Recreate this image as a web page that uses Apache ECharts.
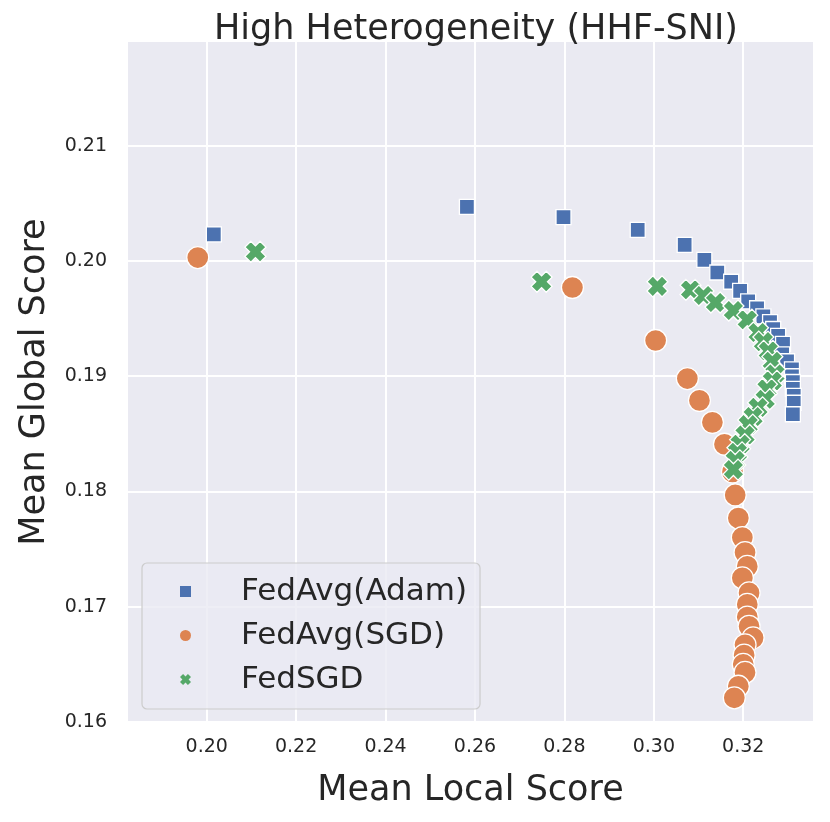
<!DOCTYPE html>
<html>
<head>
<meta charset="utf-8">
<title>High Heterogeneity (HHF-SNI)</title>
<script src="https://cdn.jsdelivr.net/npm/echarts@6/dist/echarts.min.js"></script>
<style>
html, body { margin: 0; padding: 0; background: #fff; }
#main { width: 830px; height: 822px; }
</style>
</head>
<body>
<div id="main"></div>
<script>
// values
var adamLocal = [0.2016, 0.2582, 0.2798, 0.2964, 0.3069, 0.3113, 0.3142, 0.3173, 0.3193, 0.3211,
    0.3231, 0.3245, 0.3260, 0.3267, 0.3278, 0.3289, 0.3287, 0.3298, 0.3309, 0.3309,
    0.3311, 0.3311, 0.3313, 0.3313, 0.3311];
var adamGlobal = [0.2023, 0.2047, 0.2038, 0.2027, 0.2014, 0.2001, 0.1990, 0.1982, 0.1974, 0.1965,
    0.1959, 0.1952, 0.1947, 0.1941, 0.1935, 0.1928, 0.1919, 0.1913, 0.1906, 0.1900,
    0.1895, 0.1889, 0.1883, 0.1877, 0.1867];

var sgdLocal = [0.1980, 0.2818, 0.3004, 0.3075, 0.3102, 0.3131, 0.3158, 0.3176, 0.3182, 0.3189,
    0.3198, 0.3204, 0.3209, 0.3198, 0.3213, 0.3209, 0.3209, 0.3213, 0.3222, 0.3204,
    0.3202, 0.3200, 0.3204, 0.3189, 0.3180];
var sgdGlobal = [0.2003, 0.1977, 0.1931, 0.1898, 0.1879, 0.1860, 0.1841, 0.1817, 0.1797, 0.1777,
    0.1760, 0.1747, 0.1735, 0.1725, 0.1712, 0.1702, 0.1691, 0.1683, 0.1673, 0.1667,
    0.1658, 0.1650, 0.1643, 0.1631, 0.1621];

var fedsgdLocal = [0.2109, 0.2749, 0.3008, 0.3082, 0.3111, 0.3138, 0.3178, 0.3209, 0.3233, 0.3245,
    0.3256, 0.3265, 0.3271, 0.3265, 0.3253, 0.3249, 0.3233, 0.3222, 0.3211, 0.3204,
    0.3193, 0.3187, 0.3182, 0.3178];
var fedsgdGlobal = [0.2008, 0.1982, 0.1978, 0.1975, 0.1970, 0.1964, 0.1957, 0.1949, 0.1938, 0.1930,
    0.1922, 0.1913, 0.1902, 0.1896, 0.1889, 0.1880, 0.1873, 0.1865, 0.1858, 0.1849,
    0.1841, 0.1834, 0.1827, 0.1819];

var seriesNames = ['FedAvg(Adam)', 'FedAvg(SGD)', 'FedSGD'];
var xTicks = [0.20, 0.22, 0.24, 0.26, 0.28, 0.30, 0.32];
var yTicks = [0.16, 0.17, 0.18, 0.19, 0.20, 0.21];

function pairs(xs, ys) {
    var out = [];
    for (var i = 0; i < xs.length; i++) out.push([xs[i], ys[i]]);
    return out;
}

var FONT = 'DejaVu Sans';
var INK = '#262626';
// filled "X" marker like matplotlib's 'X'
var crossPath = 'path://M0,2.8L2.8,0L5,2.2L7.2,0L10,2.8L7.8,5L10,7.2L7.2,10L5,7.8L2.8,10L0,7.2L2.2,5Z';

var chart = echarts.init(document.getElementById('main'), null, { renderer: 'canvas' });

chart.setOption({
    animation: false,
    backgroundColor: '#fff',
    title: {
        text: 'High Heterogeneity (HHF-SNI)',
        left: 209,
        top: 7,
        textStyle: { fontFamily: FONT, fontSize: 35, fontWeight: 'normal', color: INK }
    },
    grid: {
        left: 128, right: 17, top: 42, bottom: 100,
        show: true, backgroundColor: '#EAEAF2', borderWidth: 0
    },
    legend: {
        orient: 'vertical',
        left: 142,
        top: 563,
        padding: [11, 13, 12, 38],
        itemGap: 9,
        itemWidth: 11,
        itemHeight: 11,
        backgroundColor: 'rgba(234,234,242,0.8)',
        borderColor: '#cccccc',
        borderWidth: 1.2,
        borderRadius: 5,
        itemStyle: { borderWidth: 0 },
        textStyle: {
            fontFamily: FONT, fontSize: 31, color: INK,
            lineHeight: 35, padding: [0, 0, 0, 45]
        },
        data: [
            { name: seriesNames[0], icon: 'rect' },
            { name: seriesNames[1], icon: 'circle' },
            { name: seriesNames[2], icon: crossPath }
        ]
    },
    xAxis: {
        type: 'value',
        min: 0.1824,
        max: 0.3356,
        name: 'Mean Local Score',
        nameLocation: 'middle',
        nameGap: 51,
        nameTextStyle: { fontFamily: FONT, fontSize: 35, color: INK },
        axisLine: { show: false },
        axisTick: { show: false, customValues: xTicks },
        axisLabel: {
            customValues: xTicks,
            margin: 16,
            fontFamily: FONT, fontSize: 19, color: INK,
            formatter: function (v) { return v.toFixed(2); }
        },
        splitLine: { show: true, lineStyle: { color: '#fff', width: 2 } }
    },
    yAxis: {
        type: 'value',
        min: 0.16,
        max: 0.219,
        name: 'Mean Global Score',
        nameLocation: 'middle',
        nameGap: 76,
        nameTextStyle: { fontFamily: FONT, fontSize: 35, color: INK },
        axisLine: { show: false },
        axisTick: { show: false, customValues: yTicks },
        axisLabel: {
            customValues: yTicks,
            margin: 21,
            fontFamily: FONT, fontSize: 19, color: INK,
            formatter: function (v) { return v.toFixed(2); }
        },
        splitLine: { show: true, lineStyle: { color: '#fff', width: 2 } }
    },
    series: [
        {
            name: seriesNames[0],
            type: 'scatter',
            symbol: 'rect',
            symbolSize: 15,
            itemStyle: { color: '#4C72B0', borderColor: '#fff', borderWidth: 1.3, opacity: 1 },
            data: pairs(adamLocal, adamGlobal)
        },
        {
            name: seriesNames[1],
            type: 'scatter',
            symbol: 'circle',
            symbolSize: 22,
            itemStyle: { color: '#DD8452', borderColor: '#fff', borderWidth: 1.3, opacity: 1 },
            data: pairs(sgdLocal, sgdGlobal)
        },
        {
            name: seriesNames[2],
            type: 'scatter',
            symbol: crossPath,
            symbolSize: 21,
            itemStyle: { color: '#55A868', borderColor: '#fff', borderWidth: 1.3, opacity: 1 },
            data: pairs(fedsgdLocal, fedsgdGlobal)
        }
    ]
});
</script>
</body>
</html>
